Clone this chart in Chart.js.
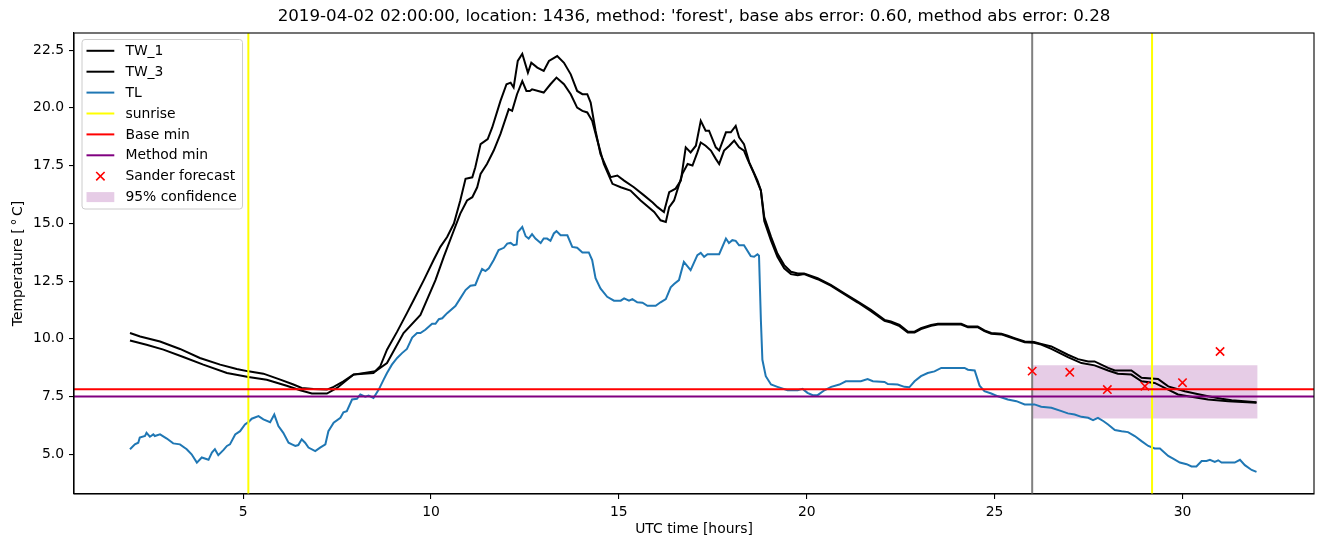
<!DOCTYPE html>
<html><head><meta charset="utf-8">
<script src="https://cdn.jsdelivr.net/npm/chart.js@4/dist/chart.umd.min.js"></script>
<style>html,body{margin:0;padding:0;background:#fff}canvas{display:block}</style>
</head><body>
<canvas id="c" width="1324" height="547"></canvas>
<script>
// ---------------- DATA ----------------
const titleText = "2019-04-02 02:00:00, location: 1436, method: 'forest', base abs error: 0.60, method abs error: 0.28";
const xTicks = [5, 10, 15, 20, 25, 30];
const yTicks = [5.0, 7.5, 10.0, 12.5, 15.0, 17.5, 20.0, 22.5];

const tw1Hours = [1.99,2.26,2.79,3.32,3.85,4.39,4.83,5.14,5.54,5.99,6.34,6.56,6.87,7.23,7.41,7.67,7.94,8.47,8.65,8.83,9.1,9.36,9.54,9.81,10.07,10.25,10.43,10.61,10.78,10.92,11.10,11.18,11.32,11.51,11.63,11.85,12.01,12.12,12.2,12.31,12.43,12.54,12.58,12.67,12.83,13.0,13.14,13.36,13.54,13.72,13.89,14.03,14.16,14.25,14.38,14.51,14.78,14.96,15.14,15.4,15.67,15.9,16.03,16.2,16.34,16.51,16.65,16.78,16.91,17.05,17.18,17.31,17.4,17.58,17.67,17.85,17.98,18.11,18.2,18.33,18.47,18.69,18.78,18.87,19.05,19.22,19.4,19.58,19.76,19.93,20.29,20.64,21.0,21.36,21.71,22.07,22.24,22.47,22.69,22.87,23.04,23.31,23.49,24.11,24.29,24.55,24.73,24.91,25.18,25.35,25.53,25.8,26.05,26.24,26.51,26.95,27.22,27.49,27.66,28.02,28.2,28.64,28.91,29.35,29.62,30.06,30.33,30.68,31.04,31.31,31.97];
const tw1Values = [10.25,10.1,9.88,9.56,9.17,8.88,8.69,8.59,8.49,8.23,8.02,7.87,7.83,7.8,7.92,8.16,8.45,8.52,8.81,9.53,10.31,11.11,11.68,12.54,13.41,13.98,14.41,14.99,15.99,16.93,16.99,17.43,18.43,18.65,19.15,20.3,21.02,21.09,20.88,22.03,22.34,21.74,21.52,21.95,21.74,21.6,22.03,22.24,21.95,21.45,20.73,20.59,20.59,20.23,19.01,18.0,17.0,17.07,16.85,16.56,16.21,15.9,15.7,15.49,16.35,16.5,16.85,18.29,18.07,18.36,19.44,19.01,19.01,18.29,18.15,18.94,18.94,19.22,18.72,18.43,17.64,16.85,16.42,15.27,14.41,13.69,13.19,12.9,12.83,12.83,12.62,12.33,11.97,11.61,11.25,10.82,10.75,10.6,10.31,10.31,10.46,10.6,10.65,10.65,10.53,10.53,10.36,10.25,10.22,10.13,10.03,9.88,9.86,9.78,9.67,9.31,9.12,9.02,9.02,8.74,8.63,8.63,8.31,8.26,7.94,7.73,7.63,7.51,7.4,7.34,7.25];

const tw3Hours = [1.99,2.43,2.88,3.41,3.94,4.57,5.14,5.63,6.16,6.52,6.83,7.23,7.5,7.94,8.52,8.83,9.27,9.72,10.12,10.34,10.61,10.78,10.96,11.1,11.23,11.32,11.49,11.67,11.85,12.07,12.16,12.29,12.43,12.54,12.63,12.69,13.0,13.18,13.34,13.54,13.72,13.89,14.03,14.16,14.29,14.43,14.6,14.83,15.05,15.31,15.58,15.94,16.11,16.25,16.34,16.47,16.69,16.83,16.96,17.09,17.18,17.31,17.45,17.58,17.67,17.8,17.94,18.07,18.2,18.33,18.42,18.6,18.78,18.87,19.05,19.22,19.4,19.58,19.76,19.93,20.29,20.64,21.0,21.36,21.71,22.07,22.24,22.47,22.69,22.87,23.04,23.31,23.49,24.11,24.29,24.55,24.73,24.91,25.18,25.35,25.53,25.8,26.05,26.24,26.51,26.95,27.31,27.66,28.02,28.28,28.64,28.91,29.26,29.62,29.88,30.15,30.68,31.22,31.97];
const tw3Values = [9.93,9.74,9.53,9.21,8.88,8.52,8.35,8.23,7.97,7.77,7.63,7.63,7.87,8.45,8.59,8.95,10.25,11.03,12.54,13.55,14.7,15.42,15.99,16.13,16.56,17.14,17.57,18.15,18.87,19.94,19.87,20.59,21.16,20.73,20.73,20.8,20.66,21.02,21.31,21.02,20.59,20.01,19.87,19.8,19.44,18.58,17.57,16.71,16.56,16.42,15.99,15.49,15.13,15.06,15.7,15.99,17.14,17.57,17.5,18.07,18.5,18.36,18.15,17.79,17.57,18.15,18.36,18.58,18.29,18.15,17.79,17.14,16.42,15.1,14.25,13.55,13.05,12.8,12.75,12.8,12.58,12.3,11.93,11.57,11.2,10.78,10.7,10.55,10.27,10.27,10.42,10.56,10.62,10.62,10.5,10.5,10.33,10.22,10.19,10.1,10.0,9.85,9.83,9.75,9.56,9.21,8.95,8.85,8.63,8.49,8.45,8.16,8.09,7.8,7.59,7.51,7.37,7.3,7.23];

const tlHours = [1.99,2.12,2.21,2.25,2.39,2.43,2.52,2.61,2.65,2.79,2.97,3.14,3.32,3.5,3.63,3.77,3.9,4.08,4.17,4.25,4.34,4.48,4.57,4.65,4.79,4.92,5.05,5.14,5.23,5.41,5.54,5.72,5.83,5.94,6.07,6.21,6.3,6.39,6.47,6.56,6.65,6.74,6.92,7.05,7.19,7.27,7.41,7.59,7.67,7.76,7.9,8.03,8.12,8.25,8.34,8.47,8.61,8.74,8.83,8.96,9.1,9.23,9.36,9.5,9.63,9.72,9.85,10.03,10.12,10.21,10.3,10.43,10.65,10.78,10.92,11.05,11.18,11.27,11.36,11.45,11.54,11.67,11.8,11.94,12.03,12.12,12.2,12.28,12.31,12.43,12.52,12.6,12.69,12.78,12.92,13.0,13.09,13.18,13.27,13.34,13.45,13.63,13.76,13.89,14.03,14.2,14.29,14.38,14.51,14.69,14.87,15.05,15.14,15.27,15.36,15.49,15.63,15.76,15.98,16.11,16.25,16.38,16.47,16.6,16.73,16.91,17.09,17.18,17.27,17.36,17.67,17.85,17.93,18.02,18.11,18.2,18.33,18.51,18.6,18.69,18.73,18.78,18.82,18.91,19.05,19.22,19.49,19.76,19.89,20.02,20.16,20.29,20.47,20.65,20.87,21.04,21.44,21.62,21.76,22.07,22.16,22.42,22.6,22.73,22.87,23.04,23.22,23.4,23.58,24.2,24.29,24.47,24.6,24.73,24.91,25.09,25.35,25.58,25.8,26.06,26.24,26.51,26.78,26.95,27.13,27.31,27.49,27.62,27.75,27.89,28.02,28.2,28.38,28.55,28.73,28.91,29.09,29.26,29.4,29.62,29.75,29.93,30.11,30.24,30.37,30.51,30.64,30.73,30.86,30.95,31.04,31.39,31.53,31.66,31.84,31.97];
const tlValues = [5.22,5.43,5.5,5.72,5.79,5.93,5.76,5.86,5.79,5.86,5.68,5.47,5.43,5.22,5.0,4.64,4.86,4.76,5.07,5.22,4.96,5.19,5.36,5.43,5.86,6.0,6.29,6.39,6.54,6.65,6.51,6.39,6.72,6.22,5.93,5.5,5.43,5.36,5.4,5.65,5.5,5.29,5.14,5.29,5.43,6.0,6.37,6.58,6.82,6.87,7.37,7.4,7.59,7.49,7.54,7.44,7.8,8.23,8.52,8.88,9.17,9.38,9.56,10.05,10.25,10.25,10.39,10.65,10.65,10.85,10.89,11.11,11.42,11.75,12.11,12.3,12.33,12.69,13.02,12.93,13.05,13.41,13.84,13.94,14.12,14.15,14.05,14.08,14.62,14.84,14.44,14.34,14.53,14.34,14.15,14.34,14.34,14.24,14.56,14.66,14.48,14.48,13.98,13.94,13.74,13.74,13.41,12.62,12.18,11.82,11.65,11.65,11.75,11.65,11.72,11.58,11.56,11.43,11.43,11.58,11.72,12.23,12.37,12.54,13.33,12.97,13.62,13.72,13.55,13.66,13.66,14.34,14.15,14.27,14.24,14.05,14.05,13.58,13.55,13.66,13.6,10.8,9.09,8.38,8.02,7.92,7.77,7.77,7.83,7.66,7.56,7.56,7.77,7.92,8.02,8.16,8.16,8.26,8.16,8.13,8.04,8.02,7.92,7.9,8.16,8.38,8.52,8.59,8.74,8.74,8.66,8.63,7.97,7.73,7.63,7.51,7.37,7.3,7.16,7.16,7.06,7.01,6.87,6.77,6.72,6.62,6.58,6.48,6.58,6.44,6.29,6.05,6.0,5.96,5.79,5.57,5.36,5.25,5.25,4.93,4.81,4.64,4.57,4.47,4.47,4.71,4.71,4.76,4.67,4.74,4.64,4.64,4.76,4.53,4.32,4.24];

const sunriseHours = [5.14, 29.19];
const forecastStartHour = 26.0;
const baseMin = 7.82;
const methodMin = 7.50;
const sanderHours = [26, 27, 28, 29, 30, 31];
const sanderValues = [8.60, 8.55, 7.80, 7.95, 8.10, 9.45];
const confHours = [26, 32];
const confLower = [6.55, 6.55];
const confUpper = [8.85, 8.85];

// ---------------- CHART ----------------
const X_MIN = 0.5, X_MAX = 33.5, Y_MIN = 3.28, Y_MAX = 23.24;
const FONT = "'DejaVu Sans', sans-serif";
const pts = (hs, vs) => hs.map((h, i) => ({x: h, y: vs[i]}));
const vline = h => [{x: h, y: Y_MIN}, {x: h, y: Y_MAX}];
const hline = v => [{x: X_MIN, y: v}, {x: X_MAX, y: v}];

const lineDefaults = {showLine: true, pointRadius: 0, borderWidth: 2, tension: 0, fill: false};

const datasets = [
  Object.assign({}, lineDefaults, {label: 'conf_lo', data: pts(confHours, confLower), borderWidth: 0, borderColor: 'rgba(0,0,0,0)', order: 20}),
  Object.assign({}, lineDefaults, {label: '95% confidence', data: pts(confHours, confUpper), borderWidth: 0, borderColor: 'rgba(0,0,0,0)', backgroundColor: 'rgba(128,0,128,0.2)', fill: '-1', order: 19}),
  Object.assign({}, lineDefaults, {label: 'forecast start', data: vline(forecastStartHour), borderColor: '#808080', order: 18}),
  Object.assign({}, lineDefaults, {label: 'TW_1', data: pts(tw1Hours, tw1Values), borderColor: '#000000', order: 12}),
  Object.assign({}, lineDefaults, {label: 'TW_3', data: pts(tw3Hours, tw3Values), borderColor: '#000000', order: 11}),
  Object.assign({}, lineDefaults, {label: 'TL', data: pts(tlHours, tlValues), borderColor: '#1f77b4', order: 10}),
  Object.assign({}, lineDefaults, {label: 'sunrise', data: vline(sunriseHours[0]), borderColor: '#ffff00', order: 9}),
  Object.assign({}, lineDefaults, {label: 'sunrise2', data: vline(sunriseHours[1]), borderColor: '#ffff00', order: 8}),
  Object.assign({}, lineDefaults, {label: 'Base min', data: hline(baseMin), borderColor: '#ff0000', order: 7}),
  Object.assign({}, lineDefaults, {label: 'Method min', data: hline(methodMin), borderColor: '#800080', order: 6}),
  {label: 'Sander forecast', data: pts(sanderHours, sanderValues), showLine: false, pointStyle: 'crossRot', pointRadius: 5.9, pointHoverRadius: 5.9, borderColor: '#ff0000', backgroundColor: '#ff0000', borderWidth: 1.6, order: 5}
];

const legendItems = [
  {label: 'TW_1', type: 'line', color: '#000000'},
  {label: 'TW_3', type: 'line', color: '#000000'},
  {label: 'TL', type: 'line', color: '#1f77b4'},
  {label: 'sunrise', type: 'line', color: '#ffff00'},
  {label: 'Base min', type: 'line', color: '#ff0000'},
  {label: 'Method min', type: 'line', color: '#800080'},
  {label: 'Sander forecast', type: 'x', color: '#ff0000'},
  {label: '95% confidence', type: 'patch', color: 'rgba(128,0,128,0.2)'}
];

const decorPlugin = {
  id: 'decor',
  afterDatasetsDraw(chart) {
    const ctx = chart.ctx, a = chart.chartArea;
    ctx.save();
    ctx.strokeStyle = '#000'; ctx.lineWidth = 1.1;
    ctx.strokeRect(a.left, a.top, a.right - a.left, a.bottom - a.top);
    ctx.restore();
  },
  afterDraw(chart) {
    const ctx = chart.ctx, a = chart.chartArea;
    ctx.save();
    // title
    ctx.fillStyle = '#000';
    ctx.font = '16.7px ' + FONT;
    ctx.textAlign = 'center'; ctx.textBaseline = 'middle';
    ctx.fillText(titleText, (a.left + a.right) / 2, 17);
    // legend
    const bx = 82, by = 39.5, bw = 160.5, bh = 169.5, r = 3;
    ctx.beginPath();
    ctx.moveTo(bx + r, by); ctx.lineTo(bx + bw - r, by); ctx.quadraticCurveTo(bx + bw, by, bx + bw, by + r);
    ctx.lineTo(bx + bw, by + bh - r); ctx.quadraticCurveTo(bx + bw, by + bh, bx + bw - r, by + bh);
    ctx.lineTo(bx + r, by + bh); ctx.quadraticCurveTo(bx, by + bh, bx, by + bh - r);
    ctx.lineTo(bx, by + r); ctx.quadraticCurveTo(bx, by, bx + r, by);
    ctx.closePath();
    ctx.fillStyle = 'rgba(255,255,255,0.8)'; ctx.fill();
    ctx.strokeStyle = '#cccccc'; ctx.lineWidth = 1; ctx.stroke();
    ctx.font = '13.9px ' + FONT;
    ctx.textAlign = 'left'; ctx.textBaseline = 'middle';
    legendItems.forEach((it, i) => {
      const y = 50.8 + i * 20.9;
      if (it.type === 'line') {
        ctx.strokeStyle = it.color; ctx.lineWidth = 2;
        ctx.beginPath(); ctx.moveTo(86.5, y); ctx.lineTo(114.3, y); ctx.stroke();
      } else if (it.type === 'x') {
        ctx.strokeStyle = it.color; ctx.lineWidth = 1.6;
        const cx = 100.4, s = 4.2;
        ctx.beginPath(); ctx.moveTo(cx - s, y - s); ctx.lineTo(cx + s, y + s);
        ctx.moveTo(cx - s, y + s); ctx.lineTo(cx + s, y - s); ctx.stroke();
      } else {
        ctx.fillStyle = it.color; ctx.fillRect(86.5, y - 5, 27.8, 10);
      }
      ctx.fillStyle = '#000';
      ctx.fillText(it.label, 125.4, y + 0.5);
    });
    ctx.restore();
  }
};

Chart.defaults.font.family = FONT;
new Chart(document.getElementById('c'), {
  type: 'scatter',
  data: {datasets},
  options: {
    responsive: false, animation: false, devicePixelRatio: 1,
    layout: {padding: {top: 33, right: 10, bottom: 0, left: 0}},
    plugins: {legend: {display: false}, tooltip: {enabled: false}, title: {display: false}},
    elements: {line: {tension: 0}},
    scales: {
      x: {
        type: 'linear', min: X_MIN, max: X_MAX,
        afterBuildTicks: s => { s.ticks = xTicks.map(v => ({value: v})); },
        afterFit: s => { s.height = 53; },
        grid: {display: true, drawOnChartArea: false, drawTicks: true, tickLength: 5, color: '#000', lineWidth: 1.1},
        border: {display: true, color: '#000', width: 1.1},
        ticks: {color: '#000', font: {size: 13.9, family: FONT}, padding: 5, maxRotation: 0, autoSkip: false, callback: v => String(v)},
        title: {display: true, text: 'UTC time [hours]', color: '#000', font: {size: 13.9, family: FONT, lineHeight: '36px'}, padding: 0}
      },
      y: {
        type: 'linear', min: Y_MIN, max: Y_MAX,
        afterBuildTicks: s => { s.ticks = yTicks.map(v => ({value: v})); },
        afterFit: s => { s.width = 74; },
        grid: {display: true, drawOnChartArea: false, drawTicks: true, tickLength: 5, color: '#000', lineWidth: 1.1},
        border: {display: true, color: '#000', width: 1.1},
        ticks: {color: '#000', font: {size: 13.9, family: FONT}, padding: 5, autoSkip: false, callback: v => Number(v).toFixed(1)},
        title: {display: true, text: 'Temperature [\u2009\u00b0\u2009C]', color: '#000', font: {size: 13.9, family: FONT, lineHeight: '36px'}, padding: 0}
      }
    }
  },
  plugins: [decorPlugin]
});
</script>
</body></html>
